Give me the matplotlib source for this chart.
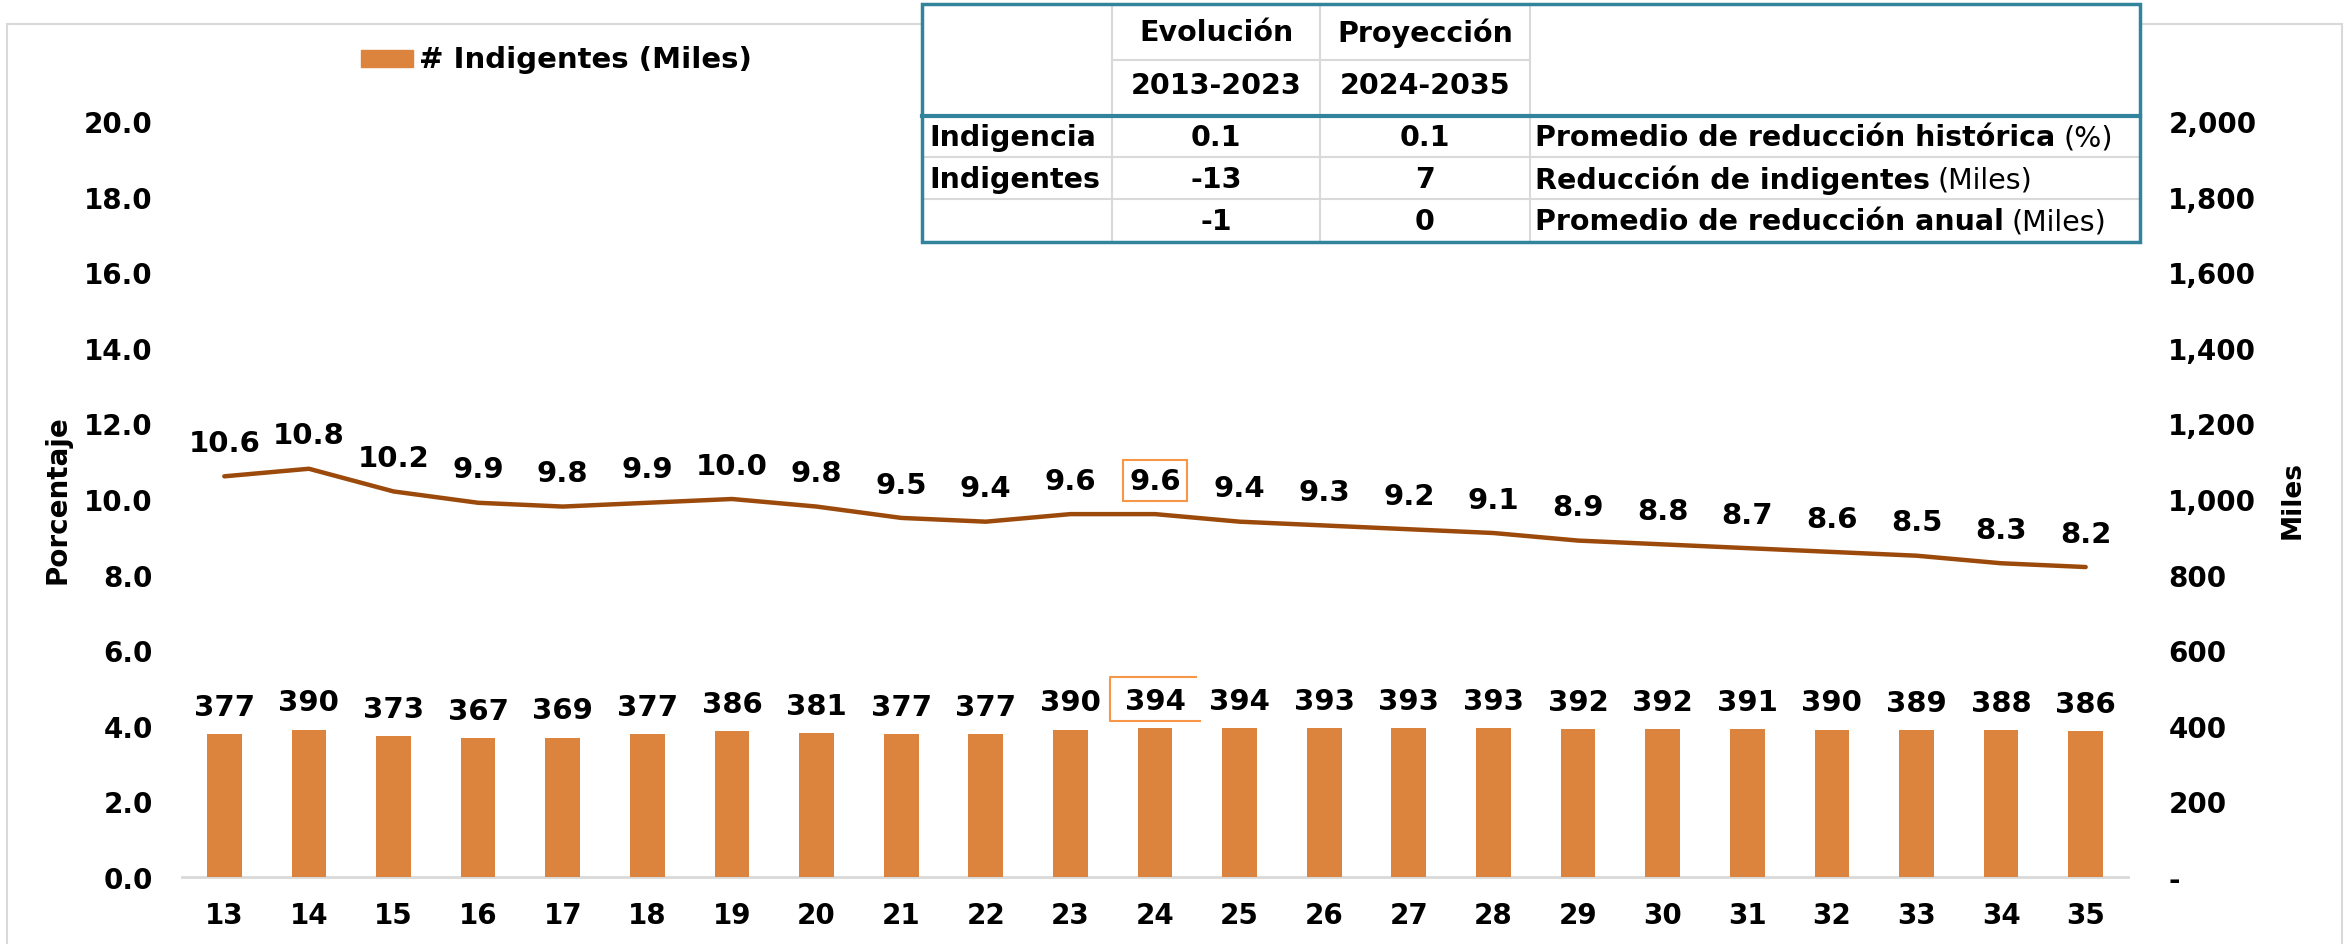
import matplotlib
matplotlib.use('Agg')
import matplotlib.pyplot as plt
from matplotlib.lines import Line2D
from matplotlib.patches import Rectangle
from matplotlib.ticker import FuncFormatter, MultipleLocator

# Data
years = ['13', '14', '15', '16', '17', '18', '19', '20', '21', '22', '23', '24',
         '25', '26', '27', '28', '29', '30', '31', '32', '33', '34', '35']
porcentaje = [10.6, 10.8, 10.2, 9.9, 9.8, 9.9, 10.0, 9.8, 9.5, 9.4, 9.6, 9.6,
              9.4, 9.3, 9.2, 9.1, 8.9, 8.8, 8.7, 8.6, 8.5, 8.3, 8.2]
indigentes = [377, 390, 373, 367, 369, 377, 386, 381, 377, 377, 390, 394,
              394, 393, 393, 393, 392, 392, 391, 390, 389, 388, 386]
highlight = 11  # index of '24'

# Summary table
table_cols = ['Evolución', 'Proyección']
table_periods = ['2013-2023', '2024-2035']
row_labels = ['Indigencia', 'Indigentes', '']
evolucion = ['0.1', '-13', '-1']
proyeccion = ['0.1', '7', '0']
desc_bold = ['Promedio de reducción histórica', 'Reducción de indigentes',
             'Promedio de reducción anual']
desc_unit = ['(%)', '(Miles)', '(Miles)']

W, H = 2348, 945
bar_color = '#DC843E'
line_color = '#9C4A0C'
teal = '#31849B'
grid_gray = '#D9D9D9'

plt.rcParams['font.family'] = 'DejaVu Sans'
plt.rcParams['font.weight'] = 'bold'

fig = plt.figure(figsize=(W / 100, H / 100), dpi=100)


def fx(x):
    return x / W


def fy(y):
    return 1 - y / H


# Outer chart frame
fig.patches.append(Rectangle((fx(7), fy(950)), fx(2342) - fx(7), fy(25) - fy(950),
                             transform=fig.transFigure, fill=False,
                             edgecolor=grid_gray, lw=1.5, zorder=0))

ax = fig.add_axes([fx(182), fy(878), fx(2128) - fx(182), fy(122) - fy(878)])
ax2 = ax.twinx()
x = list(range(len(years)))

# Bars on secondary axis (Miles)
ax2.bar(x, indigentes, width=0.41, color=bar_color, label='# Indigentes (Miles)', zorder=2)
ax2.set_ylim(0, 2000)
ax2.yaxis.set_major_locator(MultipleLocator(200))
ax2.yaxis.set_major_formatter(FuncFormatter(lambda v, p: '-' if v == 0 else f'{v:,.0f}'))

# Line on primary axis (Porcentaje)
ax.plot(x, porcentaje, color=line_color, lw=3.2, solid_capstyle='round', zorder=3)
ax.set_ylim(0, 20)
ax.yaxis.set_major_locator(MultipleLocator(2))
ax.yaxis.set_major_formatter(FuncFormatter(lambda v, p: f'{v:.1f}'))
ax.set_xlim(-0.5, len(years) - 0.5)
ax.set_xticks(x)
ax.set_xticklabels(years)

for a in (ax, ax2):
    for s in a.spines.values():
        s.set_visible(False)
    a.tick_params(length=0, labelsize=20)
ax.spines['bottom'].set_visible(True)
ax.spines['bottom'].set_color(grid_gray)
ax.spines['bottom'].set_linewidth(2)
ax.tick_params(axis='y', pad=21)
ax.tick_params(axis='x', pad=17)
ax2.tick_params(axis='y', pad=29)

# Data labels
for i, v in enumerate(porcentaje):
    t = ax.annotate(f'{v:.1f}', (i, v), xytext=(0, 24), textcoords='offset points',
                    ha='center', va='center', fontsize=21, fontweight='bold')
    if i == highlight:
        t.set_bbox(dict(boxstyle='square,pad=0.22', fc='none', ec='#F79646', lw=1.5))

for i, v in enumerate(indigentes):
    ax2.annotate(f'{v:.0f}', (i, v), xytext=(0, 19.5), textcoords='offset points',
                 ha='center', va='center', fontsize=21, fontweight='bold')

# Open orange frame around the highlighted bar label
base = ax2.transData.transform((highlight, indigentes[highlight]))
pts = [(base[0] + 41, base[1] + 51), (base[0] - 45, base[1] + 51),
       (base[0] - 45, base[1] + 7), (base[0] + 45, base[1] + 7)]
fig.lines.append(Line2D([p[0] / W for p in pts], [p[1] / H for p in pts],
                        transform=fig.transFigure, color='#F79646', lw=1.5))

# Axis titles
fig.text(fx(58), fy(500), 'Porcentaje', rotation=90, ha='center', va='center',
         fontsize=20, fontweight='bold')
fig.text(fx(2293), fy(500), 'Miles', rotation=90, ha='center', va='center',
         fontsize=19, fontweight='bold')

# Legend
fig.patches.append(Rectangle((fx(361), fy(68)), fx(413) - fx(361), fy(51) - fy(68),
                             transform=fig.transFigure, color=bar_color))
fig.text(fx(419), fy(60), '# Indigentes (Miles)', ha='left', va='center',
         fontsize=21, fontweight='bold')

# Summary table
tx0, tx1 = 922, 2140
ty0, ty1 = 5, 243
cx = [922, 1112, 1320, 1530, 2140]
fig.patches.append(Rectangle((fx(tx0), fy(ty1)), fx(tx1) - fx(tx0), fy(ty0) - fy(ty1),
                             transform=fig.transFigure, fc='white', ec='none', zorder=1))


def hline(y, x0, x1, color, lw):
    fig.lines.append(Line2D([fx(x0), fx(x1)], [fy(y), fy(y)], transform=fig.transFigure,
                            color=color, lw=lw, zorder=2))


def vline(xp, y0, y1, color, lw):
    fig.lines.append(Line2D([fx(xp), fx(xp)], [fy(y0), fy(y1)], transform=fig.transFigure,
                            color=color, lw=lw, zorder=2))


for xp in cx[1:4]:
    vline(xp, ty0, ty1, grid_gray, 1.5)
hline(61, cx[1], cx[3], grid_gray, 1.5)
hline(158, tx0, tx1, grid_gray, 1.5)
hline(200, tx0, tx1, grid_gray, 1.5)
hline(117, tx0, tx1, teal, 3)
fig.patches.append(Rectangle((fx(tx0), fy(ty1)), fx(tx1) - fx(tx0), fy(ty0) - fy(ty1),
                             transform=fig.transFigure, fill=False, ec=teal, lw=2.5, zorder=3))

tfs = 20.5
for j in range(2):
    xc = (cx[j + 1] + cx[j + 2]) / 2
    fig.text(fx(xc), fy(33), table_cols[j], ha='center', va='center', fontsize=tfs,
             fontweight='bold', zorder=4)
    fig.text(fx(xc), fy(86), table_periods[j], ha='center', va='center', fontsize=tfs,
             fontweight='bold', zorder=4)

row_y = [138, 180, 222]
renderer = fig.canvas.get_renderer()
for i, y in enumerate(row_y):
    fig.text(fx(929), fy(y), row_labels[i], ha='left', va='center', fontsize=tfs,
             fontweight='bold', zorder=4)
    fig.text(fx((cx[1] + cx[2]) / 2), fy(y), evolucion[i], ha='center', va='center',
             fontsize=tfs, fontweight='bold', zorder=4)
    fig.text(fx((cx[2] + cx[3]) / 2), fy(y), proyeccion[i], ha='center', va='center',
             fontsize=tfs, fontweight='bold', zorder=4)
    tb = fig.text(fx(1535), fy(y), desc_bold[i], ha='left', va='center', fontsize=tfs,
                  fontweight='bold', zorder=4)
    bb = tb.get_window_extent(renderer)
    fig.text(bb.x1 / W + fx(8), fy(y), desc_unit[i], ha='left', va='center',
             fontsize=tfs, fontweight='normal', zorder=4)

plt.savefig('out.png', dpi=100)
